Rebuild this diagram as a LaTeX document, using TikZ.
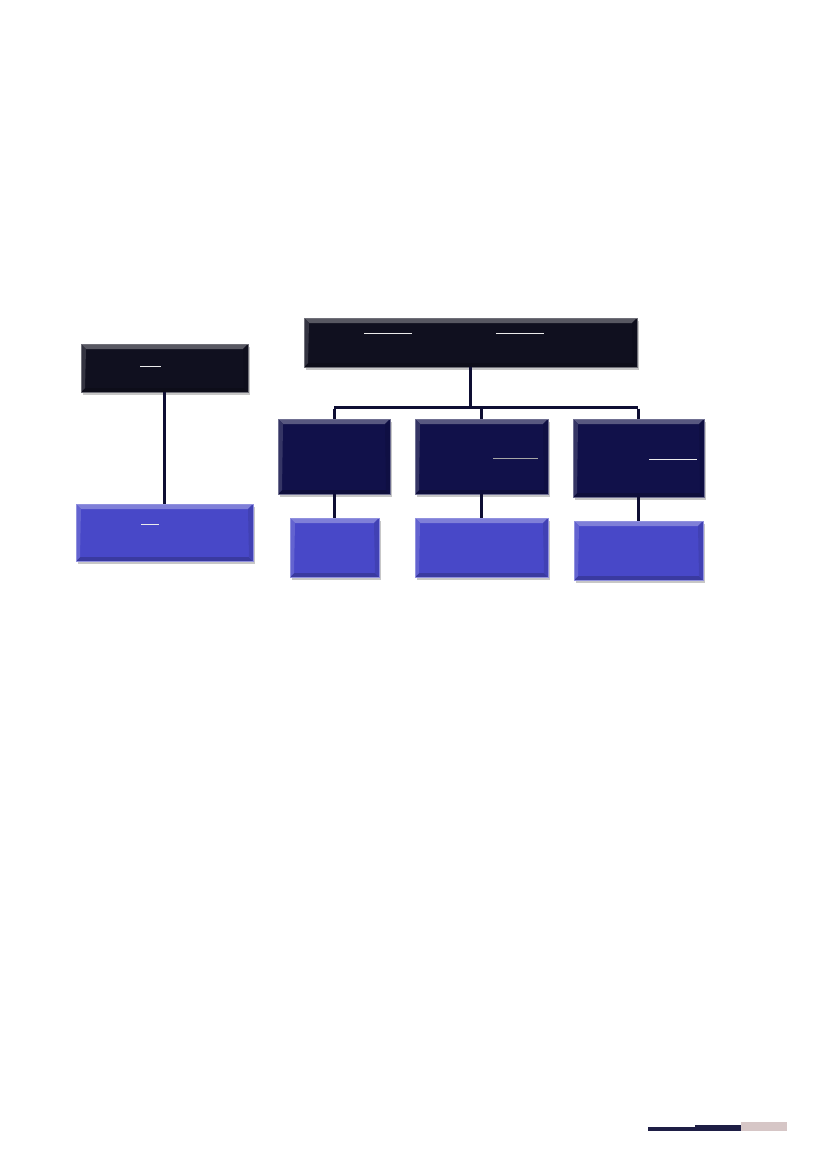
\documentclass[tikz,border=0pt]{standalone}
\usetikzlibrary{shadows}
\definecolor{boxblack}{HTML}{10101F}
\definecolor{boxnavy}{HTML}{11114A}
\definecolor{boxblue}{HTML}{4848C8}
\definecolor{linkcol}{HTML}{0E0E33}
\definecolor{footpink}{HTML}{D6C6C6}
\definecolor{footdark}{HTML}{1E1E45}
\tikzset{
  x=1pt, y=-1pt,
  basebox/.style={fill=#1, draw=#1!60!white, line width=0.8pt, inner sep=0pt,
    drop shadow={shadow xshift=1.5pt, shadow yshift=-2.5pt, fill=black, opacity=0.22},
    path picture={
      \fill[#1!70!white] (path picture bounding box.north west) -- (path picture bounding box.north east)
        -- ([xshift=-5pt,yshift=-5pt]path picture bounding box.north east)
        -- ([xshift=5pt,yshift=-5pt]path picture bounding box.north west) -- cycle;
      \fill[#1!80!black] (path picture bounding box.south west) -- (path picture bounding box.south east)
        -- ([xshift=-4pt,yshift=4pt]path picture bounding box.south east)
        -- ([xshift=4pt,yshift=4pt]path picture bounding box.south west) -- cycle;
      \fill[#1!85!white] (path picture bounding box.north west) -- ([xshift=5pt,yshift=-5pt]path picture bounding box.north west)
        -- ([xshift=4pt,yshift=4pt]path picture bounding box.south west) -- (path picture bounding box.south west) -- cycle;
      \fill[#1!90!black] (path picture bounding box.north east) -- ([xshift=-5pt,yshift=-5pt]path picture bounding box.north east)
        -- ([xshift=-4pt,yshift=4pt]path picture bounding box.south east) -- (path picture bounding box.south east) -- cycle;
    }},
  blackbox/.style={basebox=boxblack},
  navybox/.style={basebox=boxnavy},
  bluebox/.style={basebox=boxblue},
  link/.style={draw=linkcol, line width=3pt},
  tickline/.style={draw=white!85!gray, line width=1pt},
}
\newcommand{\mybox}[6]{% style, name, x1, y1, x2, y2
  \node[#1, minimum width={#5-#3}, minimum height={#6-#4}] (#2) at ({(#3+#5)/2},{(#4+#6)/2}) {};}
\begin{document}
\begin{tikzpicture}
\useasboundingbox (0,0) rectangle (827,1169);
\fill[white] (0,0) rectangle (827,1169);
\coordinate (busL) at (334,407);
\coordinate (busM) at (481,407);
\coordinate (busR) at (638,407);
\coordinate (busC) at (470,407);
\coordinate (lx) at (164,0);
% boxes
\mybox{blackbox}{top}{304}{318}{637}{367}
\mybox{blackbox}{ltop}{81}{344}{248}{392}
\mybox{bluebox}{lbot}{76}{504}{253}{561}
\mybox{navybox}{m1}{278}{419}{390}{494}
\mybox{navybox}{m2}{415}{419}{548}{494}
\mybox{navybox}{m3}{573}{419}{704}{497}
\mybox{bluebox}{b1}{290}{518}{379}{577}
\mybox{bluebox}{b2}{415}{518}{548}{577}
\mybox{bluebox}{b3}{574}{521}{703}{580}
% connectors
\draw[link] (ltop.south -| lx) -- (lbot.north -| lx);
\draw[link] (top.south -| busC) -- (busC);
\draw[link] (busL) -- (busR);
\draw[link] ([yshift=-1.5pt]busL) -- (m1.north -| busL);
\draw[link] (busM) -- (m2.north -| busM);
\draw[link] ([yshift=-1.5pt]busR) -- (m3.north -| busR);
\draw[link] (m1.south -| busL) -- (b1.north -| busL);
\draw[link] (m2.south -| busM) -- (b2.north -| busM);
\draw[link] (m3.south -| busR) -- (b3.north -| busR);
% short marks
\draw[tickline] (364,333) -- (412,333);
\draw[tickline] (496,333) -- (544,333);
\draw[tickline] (140,366) -- (161,366);
\draw[tickline] (141,524) -- (159,524);
\draw[tickline, draw=gray!70!white] (493,458) -- (538,458);
\draw[tickline] (649,459) -- (697,459);
% footer bar
\fill[footdark] (648,1127) rectangle (695,1131);
\fill[footdark] (695,1125) rectangle (741,1131);
\fill[footpink] (741,1122) rectangle (787,1131);
\end{tikzpicture}
\end{document}
